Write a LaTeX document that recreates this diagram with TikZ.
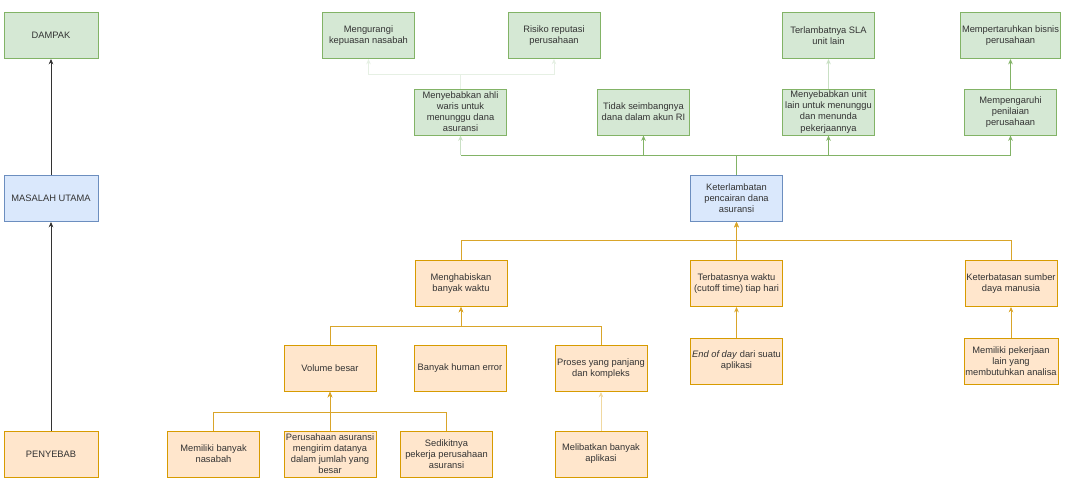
\documentclass[tikz,border=0pt]{standalone}
\usepackage{fontspec}
\setmainfont{Liberation Sans}
\usetikzlibrary{arrows.meta}
\definecolor{gfill}{HTML}{D5E8D4}
\definecolor{gline}{HTML}{82B366}
\definecolor{gfaintc}{HTML}{C9E0C4}
\definecolor{gveryfaintc}{HTML}{E6F0E4}
\definecolor{bfill}{HTML}{DAE8FC}
\definecolor{bline}{HTML}{6C8EBF}
\definecolor{ofill}{HTML}{FFE6CC}
\definecolor{oline}{HTML}{D79B00}
\definecolor{oedgec}{HTML}{D9A52A}
\definecolor{ofaintc}{HTML}{F0D8A0}
\tikzset{
  box/.style={rectangle, draw, line width=0.75pt, minimum width=69pt, minimum height=34.5pt,
    inner sep=1pt, align=center, font=\fontsize{7}{8.3}\selectfont, text=black!80},
  gbox/.style={box, fill=gfill, draw=gline},
  bbox/.style={box, fill=bfill, draw=bline},
  obox/.style={box, fill=ofill, draw=oline},
  tip/.style={-{Stealth[length=4pt,width=3.5pt]}},
  kedge/.style={tip, line width=0.75pt, draw=black!80},
  gedge/.style={line width=0.75pt, draw=gline},
  gfaint/.style={line width=0.75pt, draw=gfaintc},
  gveryfaint/.style={line width=0.75pt, draw=gveryfaintc},
  oedge/.style={line width=0.75pt, draw=oedgec},
  ofaint/.style={line width=0.75pt, draw=ofaintc},
}
\begin{document}
\begin{tikzpicture}[x=0.75pt,y=-0.75pt]
\useasboundingbox (0,0) rectangle (1068,483);
% left column
\node[gbox, minimum width=70.5pt] (dam) at (51,35.5) {DAMPAK};
\node[bbox, minimum width=70.5pt] (mas) at (51,198.5) {MASALAH UTAMA};
\node[obox, minimum width=70.5pt] (pen) at (51,454) {PENYEBAB};
\draw[kedge] (pen.north) -- (mas.south);
\draw[kedge] (mas.north) -- (dam.south);
% top row
\node[gbox] (t1) at (368.5,35.5) {Mengurangi\\kepuasan nasabah};
\node[gbox] (t2) at (554,35.5) {Risiko reputasi\\perusahaan};
\node[gbox] (t3) at (828.5,35.5) {Terlambatnya SLA\\unit lain};
\node[gbox] (t4) at (1010.5,35.5) {Mempertaruhkan bisnis\\perusahaan};
% second row
\node[gbox] (s1) at (460.5,112) {Menyebabkan ahli\\waris untuk\\menunggu dana\\asuransi};
\node[gbox] (s2) at (643.5,112) {Tidak seimbangnya\\dana dalam akun RI};
\node[gbox] (s3) at (828.5,112) {Menyebabkan unit\\lain untuk menunggu\\dan menunda\\pekerjaannya};
\node[gbox] (s4) at (1010.5,112) {Mempengaruhi\\penilaian\\perusahaan};
% main problem
\node[bbox] (kp) at (736.5,198.5) {Keterlambatan\\pencairan dana\\asuransi};
% causes
\node[obox] (o1) at (461,283.5) {Menghabiskan\\banyak waktu};
\node[obox] (o2) at (736.5,283.5) {Terbatasnya waktu\\(cutoff time) tiap hari};
\node[obox] (o3) at (1011,283.5) {Keterbatasan sumber\\daya manusia};
\node[obox] (v1) at (330,368.5) {Volume besar};
\node[obox] (v2) at (460,368.5) {Banyak human error};
\node[obox] (v3) at (601,368.5) {Proses yang panjang\\dan kompleks};
\node[obox] (e1) at (736.5,361) {\textit{End of day} dari suatu\\aplikasi};
\node[obox] (e2) at (1011,361) {Memiliki pekerjaan\\lain yang\\membutuhkan analisa};
\node[obox] (b1) at (213.5,454) {Memiliki banyak\\nasabah};
\node[obox] (b2) at (330,454) {Perusahaan asuransi\\mengirim datanya\\dalam jumlah yang\\besar};
\node[obox] (b3) at (446.5,454) {Sedikitnya\\pekerja perusahaan\\asuransi};
\node[obox] (b4) at (601,454) {Melibatkan banyak\\aplikasi};
% bus levels
\coordinate (gbus) at (0,155);
\coordinate (obus) at (0,240.5);
\coordinate (vbus) at (0,326);
\coordinate (bbus) at (0,412);
\coordinate (sbus) at (0,74);
% green connectors
\draw[gedge] (kp.north) |- (s1.south |- gbus);
\draw[gfaint,tip] (s1.south |- gbus) -- (s1.south);
\draw[gedge,tip] (kp.north) |- (s2.south |- gbus) -- (s2.south);
\draw[gedge,tip] (kp.north) |- (s3.south |- gbus) -- (s3.south);
\draw[gedge,tip] (kp.north) |- (s4.south |- gbus) -- (s4.south);
\draw[gveryfaint,tip] (s1.north) |- (t1.south |- sbus) -- (t1.south);
\draw[gveryfaint,tip] (s1.north) |- (t2.south |- sbus) -- (t2.south);
\draw[gfaint,tip] (s3.north) -- (t3.south);
\draw[gedge,tip] (s4.north) -- (t4.south);
% orange connectors
\draw[oedge,tip] (o1.north) |- (kp.south |- obus) -- (kp.south);
\draw[oedge,tip] (o3.north) |- (kp.south |- obus) -- (kp.south);
\draw[oedge,tip] (o2.north) -- (kp.south);
\draw[oedge,tip] (e1.north) -- (o2.south);
\draw[oedge,tip] (e2.north) -- (o3.south);
\draw[oedge,tip] (v1.north) |- (o1.south |- vbus) -- (o1.south);
\draw[oedge,tip] (v3.north) |- (o1.south |- vbus) -- (o1.south);
\draw[oedge,tip] (b1.north) |- (v1.south |- bbus) -- (v1.south);
\draw[oedge,tip] (b3.north) |- (v1.south |- bbus) -- (v1.south);
\draw[oedge,tip] (b2.north) -- (v1.south);
\draw[ofaint,tip] (b4.north) -- (v3.south);
\end{tikzpicture}
\end{document}
